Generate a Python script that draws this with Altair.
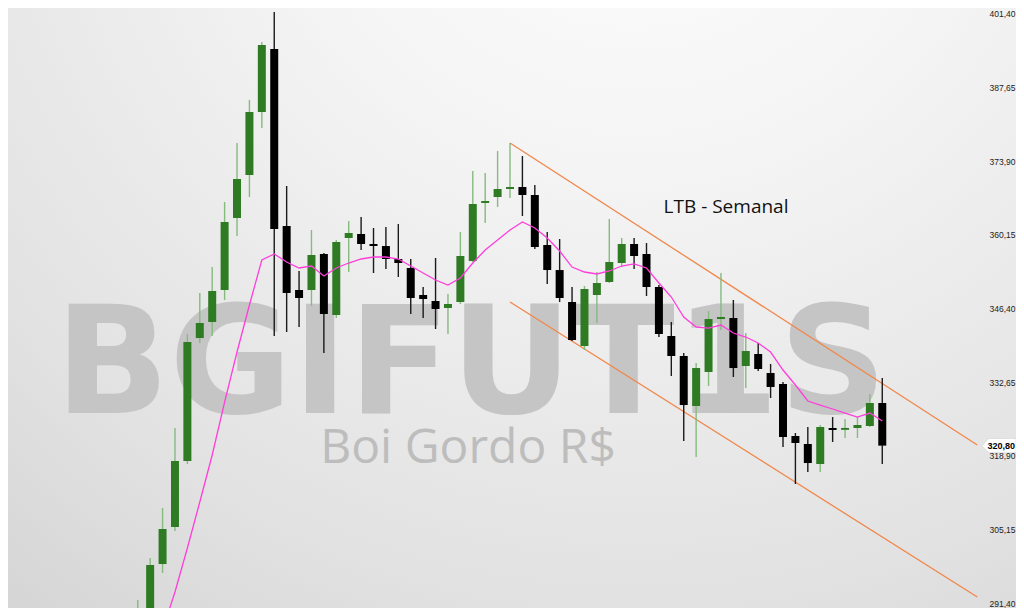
import altair as alt
import pandas as pd
import numpy as np

# Weekly candles (BGIFUT1S - Boi Gordo R$)
weeks = list(range(61))
opens = [286.37, 289.73, 298.69, 305.60, 317.93, 340.90, 343.88, 349.86, 363.31, 371.33,
         383.10, 394.86, 361.81, 349.86, 349.86, 356.58, 345.19, 359.57, 360.32, 358.45,
         358.08, 355.65, 353.97, 348.93, 347.81, 346.50, 347.62, 355.27, 366.11, 367.23,
         368.72, 369.09, 367.60, 358.26, 353.59, 347.62, 339.40, 348.93, 351.35, 354.90,
         358.45, 356.58, 350.42, 341.27, 337.54, 328.20, 334.55, 344.44, 344.63, 335.67,
         337.91, 334.36, 332.31, 322.60, 321.10, 317.37, 324.09, 323.75, 324.09, 324.46,
         328.76]
highs = [291.97, 299.81, 309.15, 324.09, 341.64, 349.30, 354.15, 366.29, 377.31, 385.34,
         396.17, 401.77, 369.28, 353.41, 361.06, 356.77, 359.20, 362.74, 363.49, 361.44,
         361.62, 362.18, 355.65, 350.42, 355.84, 349.11, 360.69, 372.08, 371.71, 375.82,
         377.31, 374.88, 369.47, 360.69, 359.38, 350.42, 350.61, 353.22, 363.12, 359.57,
         359.57, 358.64, 350.79, 343.88, 338.10, 336.23, 345.94, 353.03, 347.99, 341.83,
         339.96, 336.04, 332.68, 323.16, 324.28, 324.65, 326.14, 325.77, 326.14, 330.44,
         333.43]
lows = [285.43, 288.61, 297.01, 304.86, 317.37, 339.96, 341.27, 347.99, 359.94, 367.23,
        380.11, 341.27, 342.02, 342.95, 346.87, 338.10, 344.63, 353.22, 357.33, 353.03,
        353.78, 352.29, 345.38, 344.63, 342.58, 341.64, 347.25, 355.09, 362.37, 365.36,
        367.04, 363.68, 357.52, 350.98, 347.62, 340.34, 338.66, 343.70, 351.17, 354.15,
        353.78, 348.74, 341.08, 333.80, 321.66, 318.67, 331.93, 342.39, 333.61, 331.56,
        334.73, 329.69, 320.54, 313.63, 315.87, 315.87, 321.48, 322.22, 322.22, 324.28,
        317.37]
closes = [289.54, 298.51, 305.23, 317.93, 340.15, 343.70, 349.67, 362.56, 370.59, 383.10,
          395.61, 361.25, 349.30, 348.37, 356.40, 345.38, 358.82, 360.50, 358.45, 358.08,
          355.65, 354.90, 348.37, 348.18, 346.31, 347.25, 356.21, 365.92, 366.48, 368.72,
          369.09, 367.60, 357.89, 353.59, 348.37, 340.52, 350.05, 351.17, 355.09, 358.45,
          356.21, 350.42, 341.64, 337.54, 328.38, 335.29, 344.44, 344.82, 335.29, 338.47,
          335.11, 331.75, 322.41, 321.29, 317.55, 324.28, 323.72, 324.10, 324.65, 328.76,
          320.80]
moving_avg = [None, None, 286.37, 293.46, 301.68, 310.27, 319.05, 328.94, 338.28, 347.06,
              355.46, 356.58, 355.09, 353.97, 354.34, 352.47, 353.97, 354.90, 355.65, 356.02,
              356.02, 355.65, 354.34, 353.03, 351.73, 350.79, 352.10, 354.90, 357.33, 359.20,
              361.06, 362.56, 361.44, 359.57, 357.14, 354.15, 353.22, 352.85, 353.41, 354.34,
              354.72, 353.97, 351.17, 348.55, 344.82, 342.95, 342.76, 343.32, 341.83, 341.08,
              339.96, 338.28, 334.92, 332.12, 329.13, 328.38, 327.64, 326.89, 326.14, 326.89,
              325.40]

# Trend channel (LTB) end points: week index and price
trend_names = ["upper", "upper", "lower", "lower"]
trend_weeks = [30, 67.66, 30, 67.66]
trend_prices = [377.31, 320.92, 347.62, 292.53]

tick_values = [291.40, 305.15, 318.90, 332.65, 346.40, 360.15, 373.90, 387.65, 401.40]
last_price = [320.80]
last_label = ["320,80"]

df = pd.DataFrame({"week": weeks, "open": opens, "high": highs, "low": lows,
                   "close": closes, "ma": moving_avg})
trend_df = pd.DataFrame({"line": trend_names, "week": trend_weeks, "price": trend_prices})
last_df = pd.DataFrame({"price": last_price, "label": last_label})

W, H = 1008, 600
xs = alt.Scale(domain=[-10.053, 70.374], nice=False, zero=False)
ys = alt.Scale(domain=[290.48, 402.52], nice=False, zero=False)

yaxis = alt.Axis(
    orient="right", values=tick_values,
    labelExpr="replace(format(datum.value, '.2f'), '.', ',')",
    ticks=False, domain=False, grid=False, labelPadding=-1,
    labelAlign="right", labelFont="Liberation Sans", labelFontSize=8.5,
    labelColor="#222222", title=None, labelOverlap=False, labelFlush=False,
    zindex=1)

X = alt.X("week:Q", scale=xs, axis=None)


def Y(field):
    return alt.Y(field, scale=ys, axis=yaxis, title=None)


bg = alt.Chart(alt.Data(values=[{}])).mark_rect(
    fill=alt.RadialGradient(
        gradient="radial", x1=0.62, y1=0.0, r1=0.0, x2=0.62, y2=0.0, r2=1.05,
        stops=[alt.GradientStop(color="#ffffff", offset=0.0),
               alt.GradientStop(color="#f4f4f4", offset=0.35),
               alt.GradientStop(color="#e2e2e2", offset=0.75),
               alt.GradientStop(color="#d3d3d3", offset=1.0)])
).encode(x=alt.value(0), x2=alt.value(W), y=alt.value(0), y2=alt.value(H))

wm1 = alt.Chart(alt.Data(values=[{"t": "BGIFUT1S"}])).mark_text(
    font="DejaVu Sans", fontWeight="bold", fontSize=150, color="#c5c5c5",
    align="center", baseline="alphabetic"
).encode(x=alt.value(463), y=alt.value(405), text="t:N")

wm2 = alt.Chart(alt.Data(values=[{"t": "Boi Gordo R$"}])).mark_text(
    font="Open Sans", fontSize=48, color="#bdbdbd",
    align="center", baseline="alphabetic"
).encode(x=alt.value(460), y=alt.value(455), text="t:N")

trend = alt.Chart(trend_df).mark_line(color="#f0874a", strokeWidth=1.3, clip=True).encode(
    x=X, y=Y("price:Q"), detail="line:N")

up = "datum.close >= datum.open"

wicks = alt.Chart(df).mark_rule(strokeWidth=1.4, clip=True).encode(
    x=X, y=Y("low:Q"), y2="high:Q",
    color=alt.condition(up, alt.value("#86ba7f"), alt.value("#1a1a1a")))

bodies = alt.Chart(df).mark_bar(width=8, clip=True).encode(
    x=X, y=Y("open:Q"), y2="close:Q",
    color=alt.condition(up, alt.value("#2e7b24"), alt.value("#000000")))

ma = alt.Chart(df).transform_filter("isValid(datum.ma)").mark_line(
    color="#ff3ddc", strokeWidth=1.3, clip=True).encode(x=X, y=Y("ma:Q"))

note = alt.Chart(alt.Data(values=[{"t": "LTB - Semanal"}])).mark_text(
    font="Open Sans", fontSize=19, color="#111111", align="center", baseline="alphabetic"
).encode(x=alt.value(718), y=alt.value(205), text="t:N")

tag = alt.Chart(last_df).mark_point(
    shape="M -1 0 L -0.6 -0.42 L 1 -0.42 L 1 0.42 L -0.6 0.42 Z",
    size=1156, filled=True, fill="#ffffff", opacity=1, stroke="#cccccc", strokeWidth=0.5
).encode(x=alt.value(991), y=Y("price:Q"))

tag_text = alt.Chart(last_df).mark_text(
    font="Liberation Sans", fontWeight="bold", fontSize=9, color="#000000",
    align="right", baseline="middle"
).encode(x=alt.value(1007), y=Y("price:Q"), text="label:N")

chart = alt.layer(bg, wm1, wm2, trend, wicks, bodies, ma, note, tag, tag_text).properties(
    width=W, height=H, padding=0,
    autosize=alt.AutoSizeParams(type="none")
).configure_view(stroke=None)

chart.save("out.html", embed_options={"renderer": "svg", "actions": False})
